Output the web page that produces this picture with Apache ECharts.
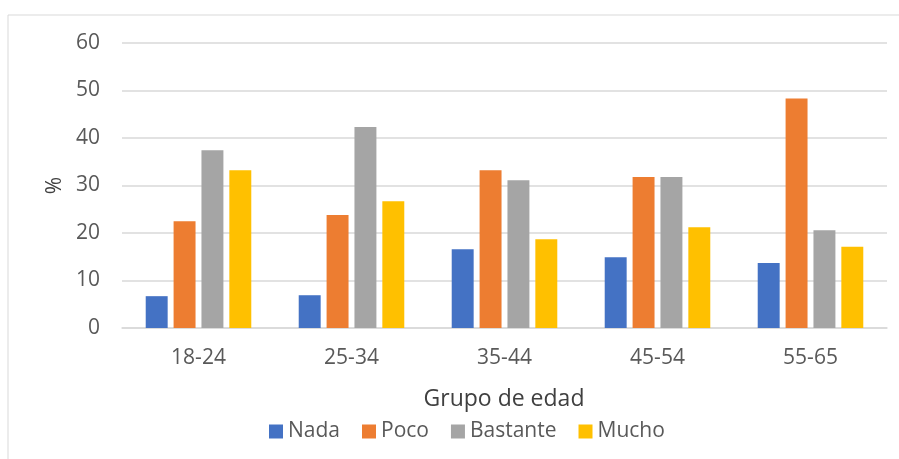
<!DOCTYPE html>
<html>
<head>
<meta charset="utf-8">
<script src="https://cdn.jsdelivr.net/npm/echarts@6/dist/echarts.min.js"></script>
<style>
html,body{margin:0;padding:0;background:#fff;}
#c{width:899px;height:459px;}
</style>
</head>
<body>
<div id="c"></div>
<script>
var categories = ['18-24', '25-34', '35-44', '45-54', '55-65'];
var nada = [6.7, 6.9, 16.6, 14.9, 13.7];
var poco = [22.5, 23.8, 33.2, 31.8, 48.3];
var bastante = [37.4, 42.3, 31.1, 31.8, 20.6];
var mucho = [33.2, 26.7, 18.7, 21.2, 17.1];
var seriesNames = ['Nada', 'Poco', 'Bastante', 'Mucho'];
var colors = ['#4472C4', '#ED7D31', '#A5A5A5', '#FFC000'];
var yTicks = [0, 10, 20, 30, 40, 50, 60];

var font = 'Open Sans';
var chart = echarts.init(document.getElementById('c'));
var data = [nada, poco, bastante, mucho];
chart.setOption({
  animation: false,
  color: colors,
  grid: {left: 122, right: 12, top: 43, bottom: 131, containLabel: false},
  legend: {
    data: seriesNames,
    left: 269, top: 421, padding: 0,
    itemWidth: 14, itemHeight: 14, itemGap: 22,
    icon: 'rect',
    textStyle: {fontFamily: font, fontSize: 21, color: '#595959'}
  },
  graphic: [
    {type: 'rect', shape: {x: 8, y: 15, width: 1000, height: 600}, style: {fill: 'none', stroke: '#d9d9d9', lineWidth: 1}, silent: true},
    {type: 'text', x: 504, y: 399, style: {text: 'Grupo de edad', fontFamily: font, fontSize: 23, fill: '#404040', align: 'center', verticalAlign: 'middle'}}
  ],
  xAxis: {
    type: 'category',
    data: categories,
    axisLine: {lineStyle: {color: '#d9d9d9', width: 1.5}},
    axisTick: {show: false},
    axisLabel: {fontFamily: font, fontSize: 21, color: '#595959', margin: 20}
  },
  yAxis: {
    type: 'value',
    min: yTicks[0], max: yTicks[yTicks.length - 1], interval: 10,
    name: '%',
    nameLocation: 'middle',
    nameGap: 56,
    nameRotate: 90,
    nameTextStyle: {fontFamily: font, fontSize: 21, color: '#404040'},
    axisLine: {show: false},
    axisTick: {show: false},
    axisLabel: {fontFamily: font, fontSize: 21, color: '#595959', margin: 22},
    splitLine: {lineStyle: {color: '#d9d9d9', width: 1.5}}
  },
  series: seriesNames.map(function (n, i) {
    return {
      name: n, type: 'bar', data: data[i],
      barGap: '27%', barCategoryGap: '31%'
    };
  })
});
</script>
</body>
</html>
